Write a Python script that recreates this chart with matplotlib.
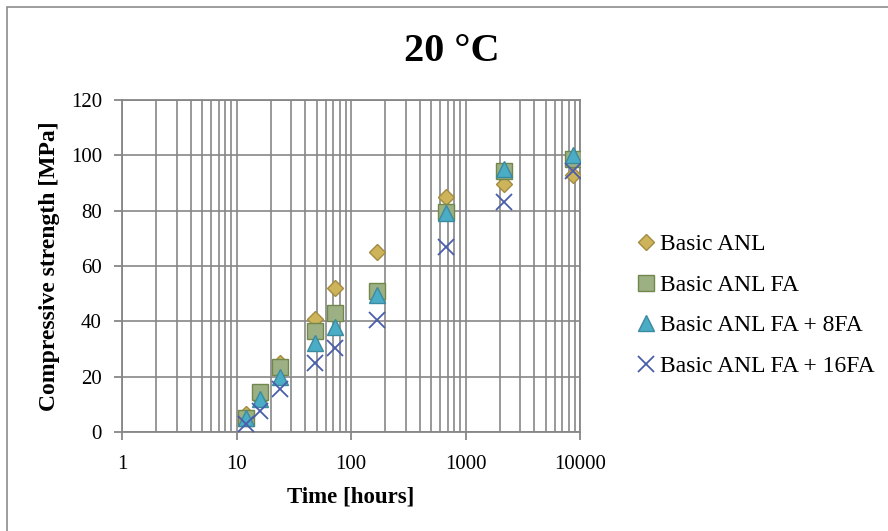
import matplotlib.pyplot as plt
import matplotlib.patches as patches
from matplotlib.ticker import LogLocator, FixedLocator, NullFormatter

# compressive strength at 20 °C, hours after casting
hours = [12, 16, 24, 48, 72, 168, 672, 2160, 8760]
basic_anl = [6.5, 12, 25, 41, 52, 65, 85, 89.5, 93]
basic_anl_fa = [5, 14.5, 23.5, 36.5, 43, 51, 79.5, 94.5, 98.5]
basic_anl_fa_8 = [5, 12, 20, 32, 38, 49.5, 79, 95, 100]
basic_anl_fa_16 = [3, 7.5, 15.5, 25, 30.5, 40.5, 67, 83, 94.5]

series_names = ['Basic ANL', 'Basic ANL FA', 'Basic ANL FA + 8FA', 'Basic ANL FA + 16FA']
x_ticks = [1, 10, 100, 1000, 10000]
y_ticks = [0, 20, 40, 60, 80, 100, 120]

plt.rcParams['font.family'] = ['Liberation Serif', 'DejaVu Serif']

fig = plt.figure(figsize=(8.88, 5.31), dpi=100)
ax = fig.add_axes([0.1374, 0.1864, 0.5158, 0.6253])

grid_col = '#878787'

ax.plot(hours, basic_anl, linestyle='none', marker='D', ms=8.5,
        mfc='#CDB45A', mec='#A38C3F', mew=1.0, label=series_names[0], zorder=3)
ax.plot(hours, basic_anl_fa, linestyle='none', marker='s', ms=11.5,
        mfc='#9CB084', mec='#71874B', mew=1.0, label=series_names[1], zorder=4)
ax.plot(hours, basic_anl_fa_8, linestyle='none', marker='^', ms=12,
        mfc='#4BACC6', mec='#3A8AA0', mew=1.0, label=series_names[2], zorder=5)
ax.plot(hours, basic_anl_fa_16, linestyle='none', marker='x', ms=11,
        color='#4A5DAA', mew=1.3, label=series_names[3], zorder=6)

ax.set_xscale('log')
ax.set_xlim(1, 10000)
ax.set_ylim(0, 120)
ax.xaxis.set_major_locator(FixedLocator(x_ticks))
ax.set_xticklabels([str(t) for t in x_ticks])
ax.xaxis.set_minor_locator(LogLocator(base=10, subs=range(2, 10)))
ax.xaxis.set_minor_formatter(NullFormatter())
ax.set_yticks(y_ticks)

ax.grid(True, which='major', axis='both', color=grid_col, lw=1.2)
ax.grid(True, which='minor', axis='x', color=grid_col, lw=1.2)
ax.set_axisbelow(True)

for s in ax.spines.values():
    s.set_color(grid_col)
    s.set_linewidth(1.3)

ax.tick_params(axis='both', which='major', direction='out', length=5.5,
               width=1.3, color=grid_col, labelsize=15, pad=9)
ax.tick_params(axis='x', which='major', pad=11)
ax.tick_params(axis='x', which='minor', length=0)

ax.set_xlabel('Time [hours]', fontsize=16.5, fontweight='bold', labelpad=9)
ax.set_ylabel('Compressive strength [MPa]', fontsize=17, fontweight='bold', labelpad=8)

fig.text(0.509, 0.903, '20 °C', fontsize=29, fontweight='bold', ha='center', va='center')

ax.legend(loc='upper left', bbox_to_anchor=(0.718, 0.560), bbox_transform=fig.transFigure,
          frameon=False, fontsize=17, numpoints=1, handlelength=0.75,
          handletextpad=0.22, labelspacing=0.81, borderpad=0, borderaxespad=0)

# outer chart frame
fig.patches.append(patches.Rectangle((7 / 888, -0.1), 1.2, 1.1 - 7 / 531, fill=False,
                                     edgecolor='#8C8C8C', lw=1.2, transform=fig.transFigure))

fig.savefig('out.png', dpi=100)
